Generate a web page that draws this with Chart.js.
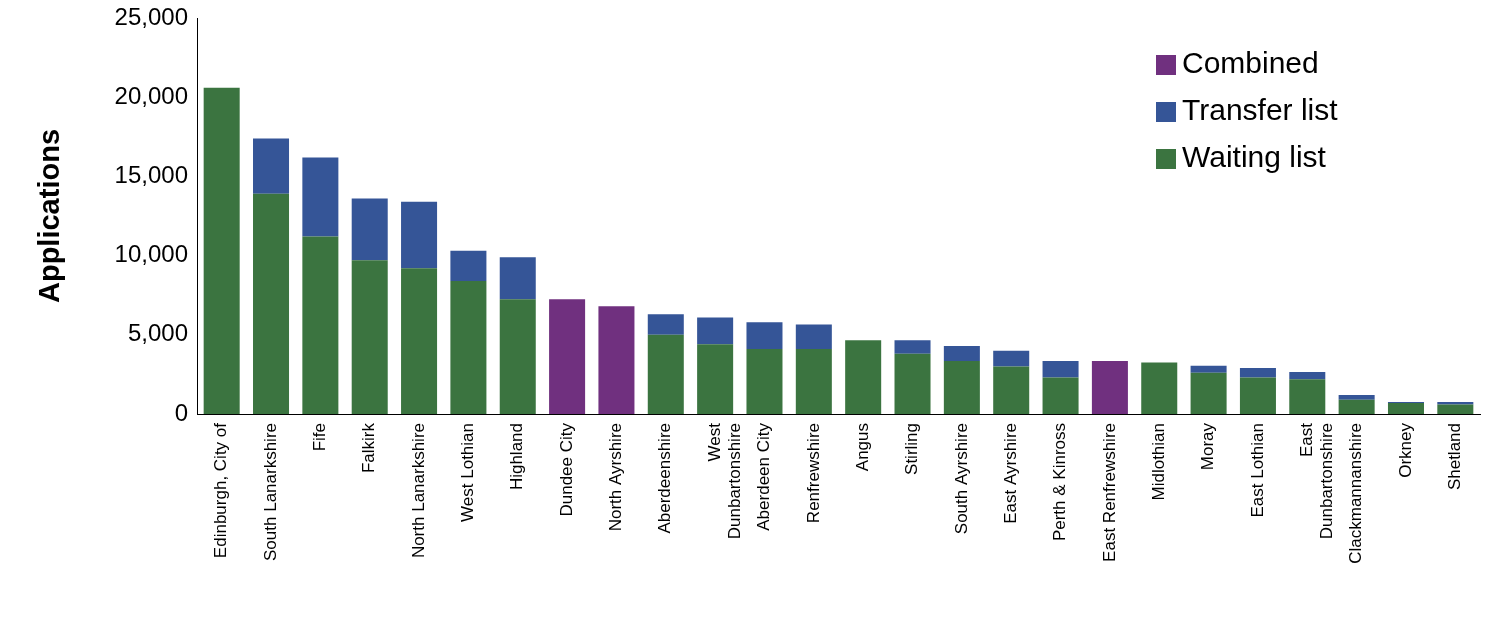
<!DOCTYPE html>
<html><head><meta charset="utf-8">
<script src="https://cdn.jsdelivr.net/npm/chart.js@4/dist/chart.umd.min.js"></script>
<style>html,body{margin:0;padding:0;background:#fff}#w{width:1494px;height:620px}</style>
</head><body><div id="w"><canvas id="c"></canvas></div>
<script>
const categories=["Edinburgh, City of","South Lanarkshire","Fife","Falkirk","North Lanarkshire","West Lothian","Highland","Dundee City","North Ayrshire","Aberdeenshire",["West","Dunbartonshire"],"Aberdeen City","Renfrewshire","Angus","Stirling","South Ayrshire","East Ayrshire","Perth & Kinross","East Renfrewshire","Midlothian","Moray","East Lothian",["East","Dunbartonshire"],"Clackmannanshire","Orkney","Shetland"];
const waitingList=[20600,13900,11200,9700,9200,8400,7250,0,0,5000,4400,4100,4100,4650,3800,3350,3000,2300,0,3250,2600,2300,2200,900,700,600];
const transferList=[0,3500,5000,3900,4200,1900,2650,0,0,1300,1700,1700,1550,0,850,950,1000,1050,0,0,450,600,450,300,50,150];
const combined=[0,0,0,0,0,0,0,7250,6800,0,0,0,0,0,0,0,0,0,3350,0,0,0,0,0,0,0];
const yTicks=[0,5000,10000,15000,20000,25000];
const FONT='Liberation Sans, Arial';
const ds=(label,data,color)=>({label,data,backgroundColor:color,barPercentage:0.73,categoryPercentage:1,stack:'s'});
const legendPlugin={id:'lg',afterDraw(ch){
  const c=ch.ctx;c.save();c.font='30px '+FONT;c.textBaseline='middle';c.fillStyle='#000';
  const items=[...ch.data.datasets].reverse();
  items.forEach((d,i)=>{const y=65+i*47;c.fillStyle=d.backgroundColor;c.fillRect(1156,y-10,20,20);c.fillStyle='#000';c.fillText(d.label,1182,y);});
  c.restore();}};
new Chart(document.getElementById('c'),{type:'bar',
data:{labels:categories,datasets:[ds('Waiting list',waitingList,'#3b7440'),ds('Transfer list',transferList,'#355597'),ds('Combined',combined,'#70307f')]},
plugins:[legendPlugin],
options:{responsive:true,maintainAspectRatio:false,animation:false,
layout:{padding:{top:18,right:14,left:30,bottom:0}},
plugins:{tooltip:{enabled:false},legend:{display:false}},
scales:{x:{stacked:true,grid:{display:false,drawTicks:true,tickLength:6},border:{color:'#000'},
afterFit:s=>{s.height=206;},
ticks:{color:'#000',font:{size:17,family:FONT},maxRotation:90,minRotation:90,autoSkip:false}},
y:{stacked:true,min:0,max:25000,afterBuildTicks:a=>{a.ticks=yTicks.map(v=>({value:v}))},
afterFit:s=>{s.width=167;},
grid:{display:false,drawTicks:true,tickLength:6},border:{color:'#000'},
ticks:{color:'#000',font:{size:24,family:FONT},callback:v=>v.toLocaleString('en-US')},
title:{display:true,text:'Applications',color:'#000',font:{size:29,weight:'bold',family:FONT}}}}}});
</script></body></html>
